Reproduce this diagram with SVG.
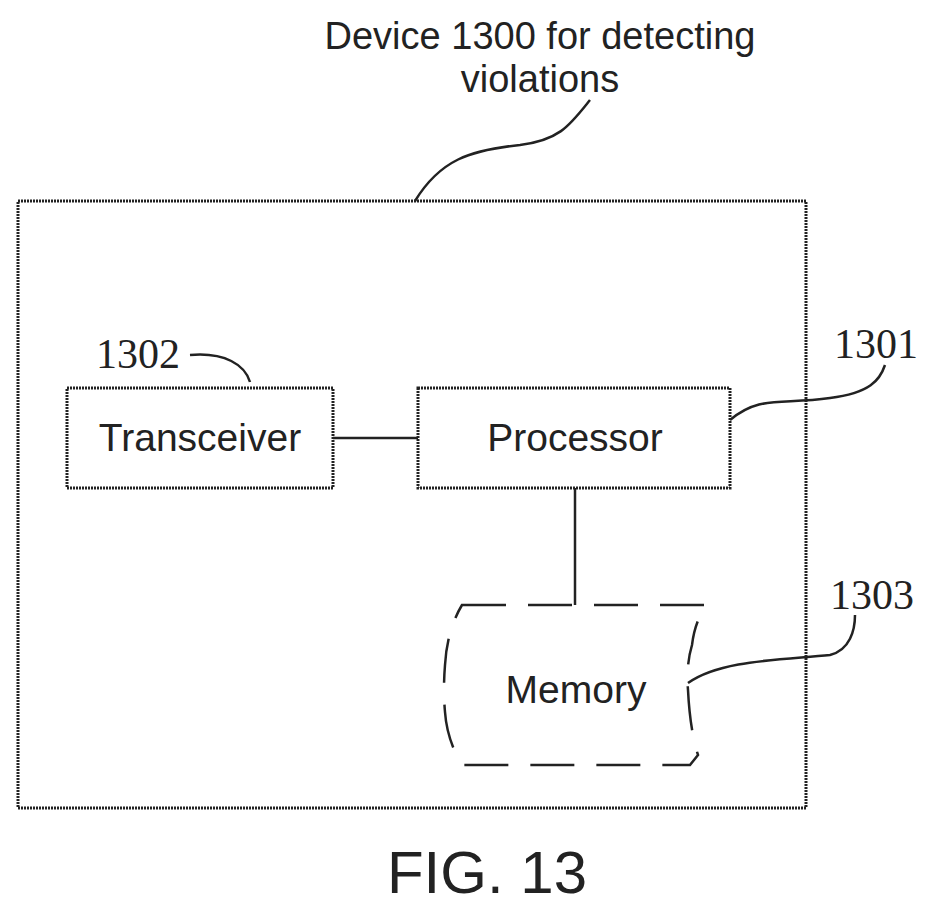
<svg xmlns="http://www.w3.org/2000/svg" width="936" height="910" viewBox="0 0 936 910">
<style>
.b{fill:none;stroke:#222;stroke-width:3;stroke-dasharray:2 1}
.l{fill:none;stroke:#222;stroke-width:2.5}
.t{font-family:"Liberation Sans",Arial,sans-serif;fill:#222}
.n{font-family:"Liberation Serif","Times New Roman",serif;fill:#222;font-size:42px}
</style>
<rect width="936" height="910" fill="#fff"/>
<g id="device">
<rect class="b" x="18" y="201" width="788" height="607"/>
<text class="t" x="540" y="49" font-size="38" text-anchor="middle">Device 1300 for detecting</text>
<text class="t" x="540" y="92" font-size="38" text-anchor="middle">violations</text>
</g>
<g id="transceiver">
<rect class="b" x="67" y="388" width="266" height="100"/>
<text class="t" x="200" y="451" font-size="39" text-anchor="middle">Transceiver</text>
<text class="n" x="96" y="368">1302</text>
</g>
<g id="processor">
<rect class="b" x="418" y="388" width="312" height="100"/>
<text class="t" x="575" y="451" font-size="39" text-anchor="middle">Processor</text>
<text class="n" x="834" y="358">1301</text>
</g>
<g id="memory">
<path class="l" stroke-dasharray="44 22" d="M462 605 H707 Q695 620 692 645 Q686 665 688 690 Q690 730 698 755 L690 765 H462 Q447 740 445 712 Q443 690 445 665 Q447 630 462 605 Z"/>
<text class="t" x="576" y="703" font-size="39" text-anchor="middle">Memory</text>
<text class="n" x="830" y="609">1303</text>
</g>
<g id="connectors">
<path class="l" d="M333 438 H418"/>
<path class="l" d="M575 488 V605"/>
<path class="l" d="M415 201 C440 160 470 150 520 145 C560 140 570 125 590 100"/>
<path class="l" d="M190 355 C225 352 245 365 250 382"/>
<path class="l" d="M730 420 C760 395 780 405 830 398 C870 393 880 380 885 365"/>
<path class="l" d="M688 683 C720 660 780 660 830 655 C850 650 855 630 855 615"/>
</g>
<text class="t" x="487" y="893" font-size="60" text-anchor="middle">FIG. 13</text>
</svg>
